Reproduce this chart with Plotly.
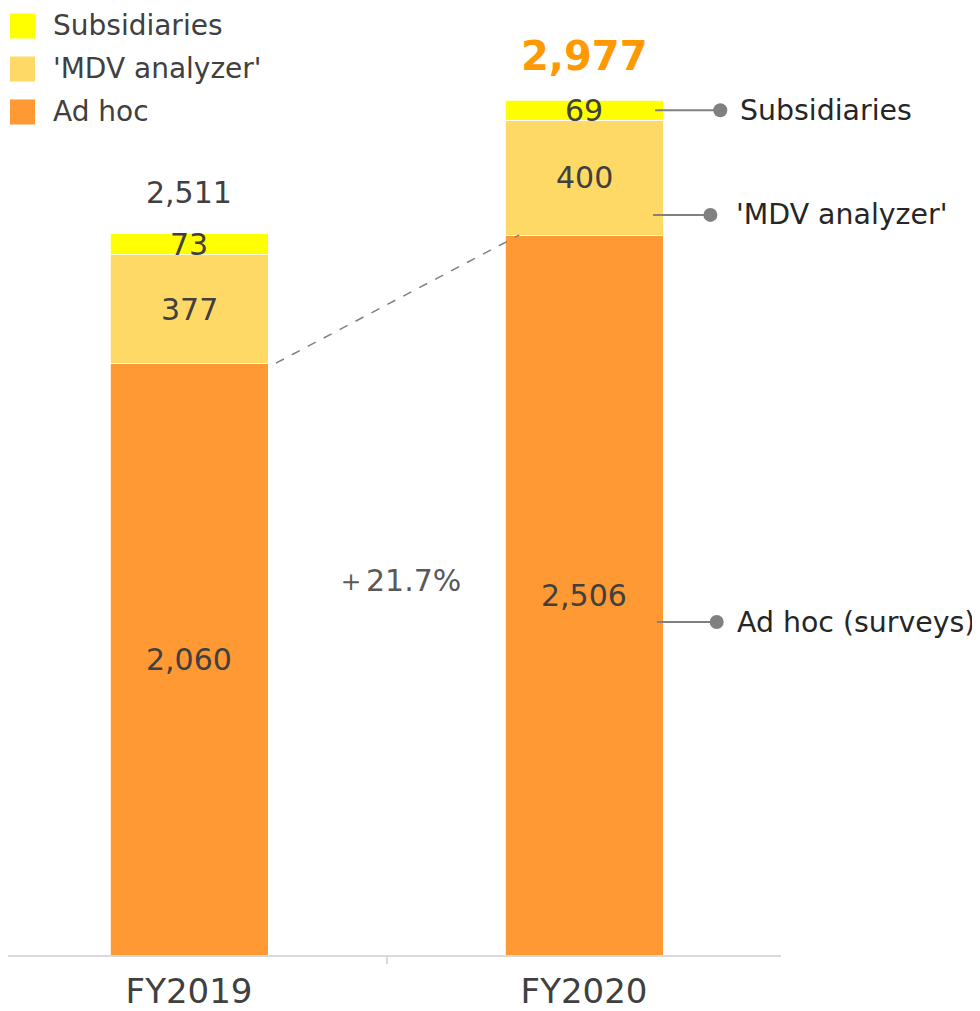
import plotly.graph_objects as go

# ---- data ----
categories = ["FY2019", "FY2020"]
series_names = ["Ad hoc", "'MDV analyzer'", "Subsidiaries"]
ad_hoc = [2060, 2506]
mdv_analyzer = [377, 400]
subsidiaries = [73, 69]
totals = [2511, 2977]
growth_label = "＋21.7%"
callout_labels = ["Ad hoc (surveys)", "'MDV analyzer'", "Subsidiaries"]

colors = ["#FF9933", "#FFD966", "#FFFF00"]
series_values = [ad_hoc, mdv_analyzer, subsidiaries]

# page body has an 8px margin, so the figure is sized to the remaining viewport
OFF = 8
W, H = 980 - OFF, 1011 - OFF
ML, MR, MT, MB = 0, 199, 0, 56
PW, PH = W - ML - MR, H - MT - MB
YMAX = PH / 0.2873
X0 = -181 / 395
XR = [X0, X0 + PW / 395]

TXT = "#404040"
FONT = "DejaVu Sans"

fig = go.Figure()
for name, vals, col in zip(series_names, series_values, colors):
    fig.add_trace(go.Bar(
        x=categories, y=vals, name=name,
        marker=dict(color=col, line=dict(color="white", width=0.8)),
        width=0.4, showlegend=False, hoverinfo="skip"))

annotations = []
shapes = []

# segment value labels
for ci, cat in enumerate(categories):
    base = 0
    for vals in series_values:
        v = vals[ci]
        annotations.append(dict(x=ci, y=base + v / 2, xref="x", yref="y", text=f"{v:,}",
                                showarrow=False, font=dict(size=30, color=TXT, family=FONT)))
        base += v

# totals
annotations.append(dict(x=0, y=totals[0], xref="x", yref="y", text=f"{totals[0]:,}", showarrow=False,
                        yanchor="bottom", yshift=22, font=dict(size=30, color=TXT, family=FONT)))
annotations.append(dict(x=1, y=totals[1], xref="x", yref="y", text=f"<b>{totals[1]:,}</b>", showarrow=False,
                        yanchor="bottom", yshift=19, font=dict(size=40, color="#FF9900", family=FONT)))

# growth label
annotations.append(dict(x=0.53, y=1305, xref="x", yref="y", text=growth_label, showarrow=False,
                        font=dict(size=30, color="#595959", family=FONT)))

# dashed connector between ad hoc tops
shapes.append(dict(type="line", xref="x", yref="y", x0=0.22, y0=ad_hoc[0], x1=0.836, y1=ad_hoc[1],
                   line=dict(color="#808080", width=1.5, dash="dash")))

# right-hand callouts
callout_y = [1159, ad_hoc[1] + 0.175 * mdv_analyzer[1], ad_hoc[1] + mdv_analyzer[1] + subsidiaries[1] / 2]
callout_x0 = [1.185, 1.175, 1.18]
callout_x1 = [1.336, 1.32, 1.345]
callout_shift = [18, 24, 18]
for lab, yy, x0, x1, sh in zip(callout_labels, callout_y, callout_x0, callout_x1, callout_shift):
    shapes.append(dict(type="line", xref="x", yref="y", x0=x0, y0=yy, x1=x1, y1=yy,
                       line=dict(color="#808080", width=2)))
    annotations.append(dict(x=x1, y=yy, xref="x", yref="y", text=lab, showarrow=False, xanchor="left",
                            xshift=sh, font=dict(size=28.4, color="#262626", family=FONT)))
fig.add_trace(go.Scatter(x=callout_x1, y=callout_y, mode="markers",
                         marker=dict(color="#808080", size=14),
                         showlegend=False, hoverinfo="skip", cliponaxis=False, xaxis="x2", yaxis="y"))

# manual legend (top-left)
leg_items = list(zip(series_names, colors))[::-1]
for i, (name, col) in enumerate(leg_items):
    cy = 26 + 43 * i - OFF
    shapes.append(dict(type="rect", xref="paper", yref="paper",
                       x0=(10 - OFF) / PW, x1=(35 - OFF) / PW,
                       y0=(PH - (cy - 12.5)) / PH, y1=(PH - (cy + 12.5)) / PH,
                       fillcolor=col, line=dict(width=0)))
    annotations.append(dict(x=(51 - OFF) / PW, y=(PH - cy) / PH, xref="paper", yref="paper", text=name,
                            showarrow=False, xanchor="left", yanchor="middle",
                            font=dict(size=28, color=TXT, family=FONT)))

fig.update_layout(
    width=W, height=H, margin=dict(l=ML, r=MR, t=MT, b=MB, autoexpand=False),
    barmode="stack",
    plot_bgcolor="white", paper_bgcolor="white",
    xaxis=dict(range=XR, showline=True, linecolor="#D9D9D9", linewidth=1.5, ticks="outside",
               tickson="boundaries", ticklen=7, tickcolor="#D9D9D9", tickwidth=1.5,
               tickfont=dict(size=34, color=TXT, family=FONT), showgrid=False, zeroline=False,
               ticklabelstandoff=5),
    xaxis2=dict(range=XR, overlaying="x", visible=False),
    yaxis=dict(range=[0, YMAX], visible=False, showgrid=False, zeroline=False),
    annotations=annotations, shapes=shapes,
)
fig.write_html("out.html")
